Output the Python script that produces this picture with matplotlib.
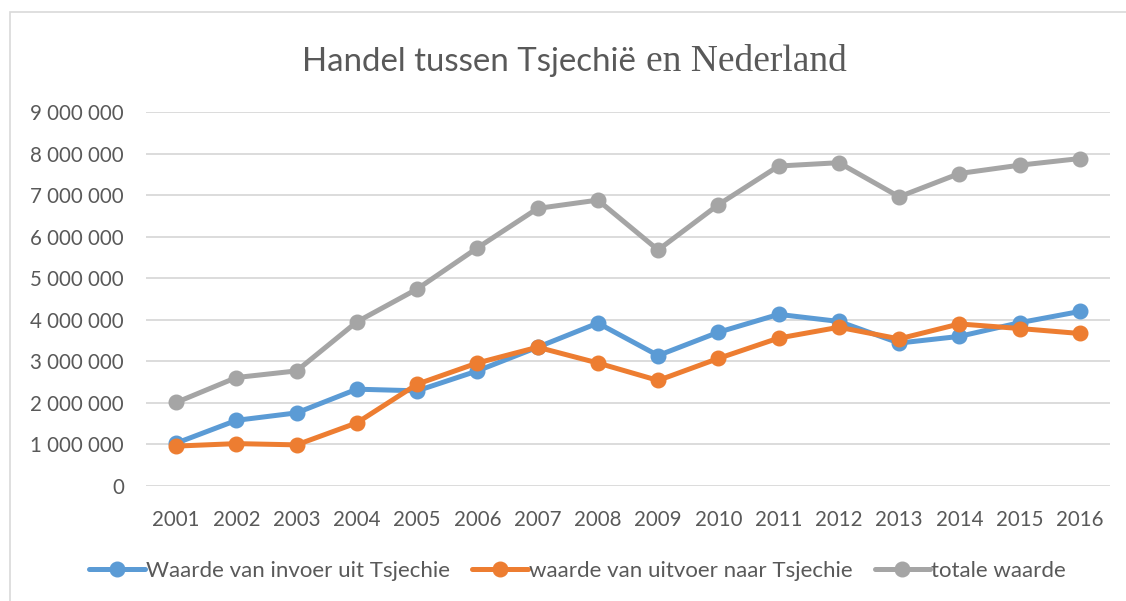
import matplotlib
matplotlib.use('Agg')
import matplotlib.pyplot as plt
from matplotlib.patches import Rectangle
from matplotlib.ticker import FuncFormatter

# Gegevens
jaren = [str(j) for j in range(2001, 2017)]
invoer = [1030000, 1580000, 1760000, 2330000, 2290000, 2770000, 3340000, 3920000,
          3140000, 3700000, 4130000, 3960000, 3440000, 3600000, 3930000, 4200000]
uitvoer = [960000, 1020000, 990000, 1520000, 2450000, 2960000, 3340000, 2960000,
           2540000, 3070000, 3560000, 3820000, 3540000, 3900000, 3790000, 3670000]
totaal = [2010000, 2610000, 2770000, 3950000, 4740000, 5730000, 6680000, 6880000,
          5680000, 6770000, 7700000, 7780000, 6960000, 7520000, 7720000, 7880000]
labels = ['Waarde van invoer uit Tsjechie', 'waarde van uitvoer naar Tsjechie', 'totale waarde']
kleuren = ['#5B9BD5', '#ED7D31', '#A5A5A5']

tekst = '#595959'
plt.rcParams['font.family'] = ['Lato', 'DejaVu Sans']

fig = plt.figure(figsize=(11.26, 6.01), dpi=100)
ax = fig.add_axes([146/1126, 1 - 486/601, (1110 - 146)/1126, (486 - 112)/601])

# kader rond de grafiek
fig.patches.append(Rectangle((10/1126, -0.05), 1.2, 1 - 12/601 + 0.05, transform=fig.transFigure,
                             fill=False, edgecolor='#D9D9D9', linewidth=1.2))

x = range(len(jaren))
for reeks, lab, kl in zip([invoer, uitvoer, totaal], labels, kleuren):
    ax.plot(x, reeks, color=kl, linewidth=3.6, marker='o', markersize=10.5, label=lab,
            solid_capstyle='round')

ax.set_xlim(-0.5, len(jaren) - 0.5)
ax.set_ylim(0, 9000000)
ax.set_yticks(range(0, 9000001, 1000000))
ax.yaxis.set_major_formatter(FuncFormatter(lambda v, p: f'{int(v):,}'.replace(',', ' ')))
ax.set_xticks(list(x))
ax.set_xticklabels(jaren)
ax.grid(True, axis='y', color='#D9D9D9', linewidth=1.3)
ax.set_axisbelow(True)
for s in ax.spines.values():
    s.set_visible(False)
ax.tick_params(length=0, labelsize=14.8, labelcolor=tekst)
ax.tick_params(axis='y', pad=16)
ax.tick_params(axis='x', pad=17)

fig.text(636/1126, 1 - 71/601, 'Handel tussen Tsjechië', ha='right', va='baseline',
         fontsize=23.8, color=tekst)
fig.text(646/1126, 1 - 71/601, 'en Nederland', ha='left', va='baseline',
         fontsize=27, color=tekst, family=['Liberation Serif', 'DejaVu Serif'])

fig.legend(loc='center', bbox_to_anchor=(0.513, 1 - 571/601), ncol=3, frameon=False,
           fontsize=16, labelcolor=tekst, handlelength=2.5, handletextpad=0.05,
           columnspacing=1.0)

fig.savefig('out.png', dpi=100)
